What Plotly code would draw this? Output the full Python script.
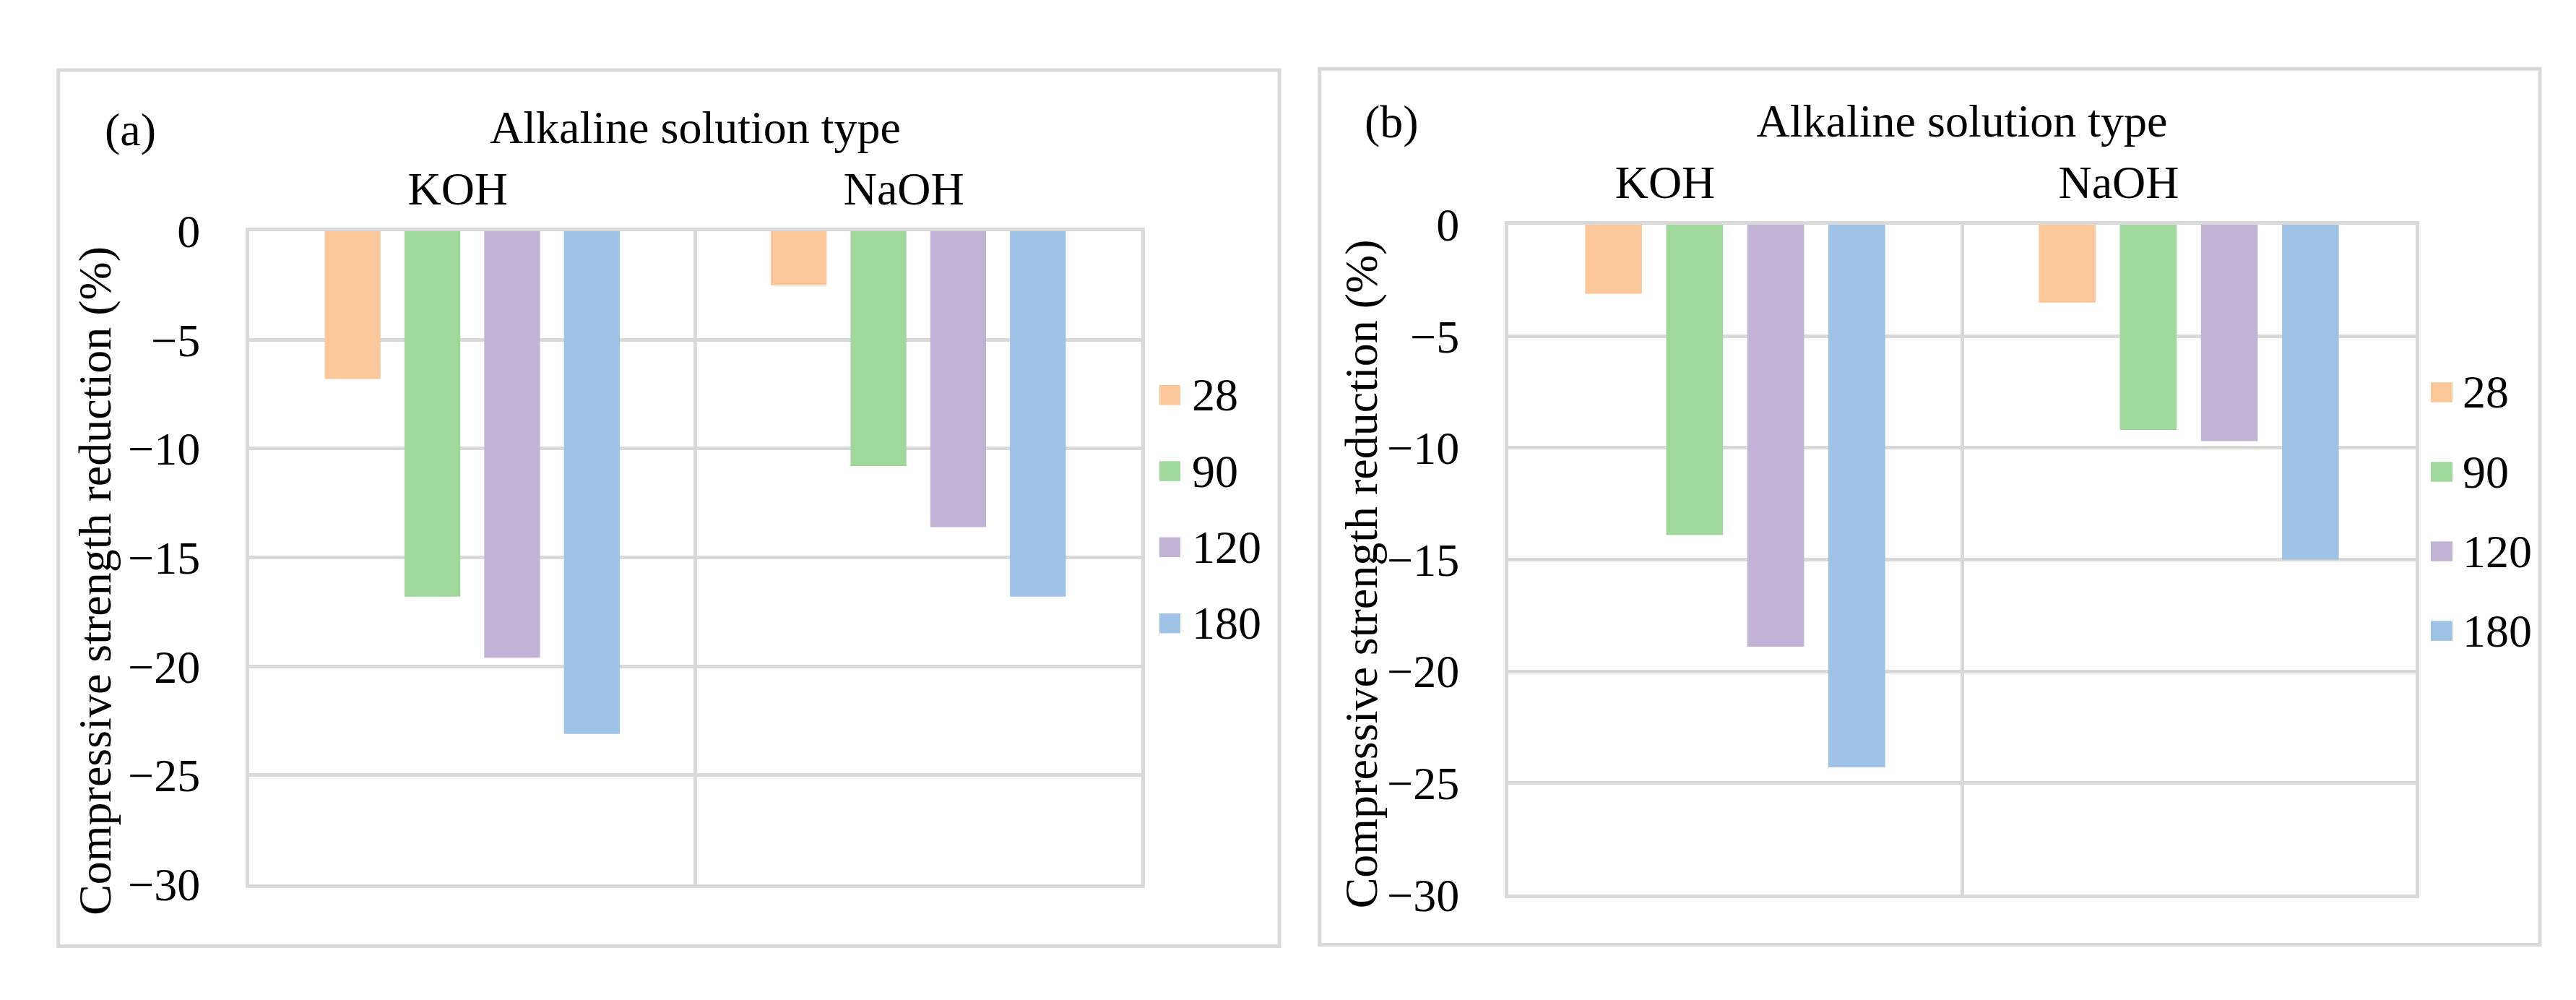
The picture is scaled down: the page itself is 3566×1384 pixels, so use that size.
import plotly.graph_objects as go

# ---------------- data ----------------
categories = ["KOH", "NaOH"]
series_names = ["28", "90", "120", "180"]
colors = ["#FCC899", "#9ED89A", "#C2B2D6", "#9EC3E6"]

# panel (a): compressive strength reduction (%) per curing age
a_28 = [-6.8, -2.5]
a_90 = [-16.8, -10.8]
a_120 = [-19.6, -13.6]
a_180 = [-23.1, -16.8]

# panel (b)
b_28 = [-3.1, -3.5]
b_90 = [-13.9, -9.2]
b_120 = [-18.9, -9.7]
b_180 = [-24.3, -15.0]

y_tickvals = [0, -5, -10, -15, -20, -25, -30]
y_ticktext = ["0", "\u22125", "\u221210", "\u221215", "\u221220", "\u221225", "\u221230"]

x_title = "Alkaline solution type"
y_title = "Compressive strength reduction (%)"
panel_labels = ["(a)", "(b)"]

panel_a = [a_28, a_90, a_120, a_180]
panel_b = [b_28, b_90, b_120, b_180]

# ---------------- figure ----------------
W, H = 3566, 1384
FONT = "Liberation Serif, Times New Roman, serif"
FS = 64
GRID = "#d9d9d9"
TXT = dict(family=FONT, size=FS, color="black")

fig = go.Figure()

for i, name in enumerate(series_names):
    fig.add_trace(go.Bar(
        x=categories, y=panel_a[i], name=name,
        marker=dict(color=colors[i], line=dict(width=0)),
        xaxis="x", yaxis="y", showlegend=False,
    ))
for i, name in enumerate(series_names):
    fig.add_trace(go.Bar(
        x=categories, y=panel_b[i], name=name,
        marker=dict(color=colors[i], line=dict(width=0)),
        xaxis="x2", yaxis="y2", showlegend=False,
    ))


def px_x(v):
    return v / W


def px_y(v):
    return 1 - v / H


def xaxis_cfg(domain, anchor, shift):
    return dict(
        domain=domain, anchor=anchor, type="category", side="top",
        tickson="boundaries", showgrid=True, gridcolor=GRID, gridwidth=5,
        showline=True, mirror=True, linecolor=GRID, linewidth=5,
        ticks="", ticklabelshift=shift, ticklabelstandoff=6,
        tickfont=TXT,
        title=dict(text=x_title, font=TXT, standoff=8),
        automargin=True, fixedrange=True,
    )


def yaxis_cfg(domain, anchor):
    return dict(
        domain=domain, anchor=anchor, range=[-30, 0],
        tickmode="array", tickvals=y_tickvals, ticktext=y_ticktext,
        showgrid=True, gridcolor=GRID, gridwidth=5, zeroline=False,
        showline=True, mirror=True, linecolor=GRID, linewidth=5,
        ticks="", ticklabelstandoff=50,
        tickfont=TXT,
        fixedrange=True,
    )


fig.update_layout(
    width=W, height=H,
    margin=dict(l=0, r=0, t=0, b=0),
    paper_bgcolor="white", plot_bgcolor="white",
    barmode="group", bargap=0.285, bargroupgap=0.3,
    font=TXT, showlegend=False,
    xaxis=xaxis_cfg([px_x(337), px_x(1572)], "y", -20),
    yaxis=yaxis_cfg([px_y(1244.5), px_y(291.5)], "x"),
    xaxis2=xaxis_cfg([px_x(2080), px_x(3336)], "y2", -97),
    yaxis2=yaxis_cfg([px_y(1260), px_y(282)], "x2"),
)

# outer panel frames
for (x0, y0, x1, y1) in [(72.7, 57, 1763, 1335), (1818.6, 55, 3508, 1333)]:
    fig.add_shape(type="rect", xref="paper", yref="paper",
                  x0=px_x(x0), x1=px_x(x1), y0=px_y(y1), y1=px_y(y0),
                  line=dict(color=GRID, width=5), fillcolor="rgba(0,0,0,0)", layer="below")

# panel labels
for lab, (cx, cy) in zip(panel_labels, [(172, 143.5), (1918, 132)]):
    fig.add_annotation(text=lab, xref="paper", yref="paper",
                       x=px_x(cx), y=px_y(cy), xanchor="center", yanchor="middle",
                       showarrow=False, font=TXT)

# y-axis titles (rotated text, placed as in the reference)
for (cx, cy) in [(124, 802), (1876, 792)]:
    fig.add_annotation(text=y_title, xref="paper", yref="paper", textangle=-90,
                       x=px_x(cx), y=px_y(cy), xanchor="center", yanchor="middle",
                       showarrow=False, font=TXT)

# legends (one per panel): square key + series name
legend_specs = [
    dict(key_x0=1597, key_w=29, text_x=1640, y0=531, dy=111),
    dict(key_x0=3357, key_w=30, text_x=3399, y0=527, dy=116),
]
KEY_H = 29
for spec in legend_specs:
    for i, name in enumerate(series_names):
        cy = spec["y0"] + i * spec["dy"]
        fig.add_shape(type="rect", xref="paper", yref="paper",
                      x0=px_x(spec["key_x0"]), x1=px_x(spec["key_x0"] + spec["key_w"]),
                      y0=px_y(cy + KEY_H / 2), y1=px_y(cy - KEY_H / 2),
                      line=dict(width=0), fillcolor=colors[i])
        fig.add_annotation(text=name, xref="paper", yref="paper",
                           x=px_x(spec["text_x"]), y=px_y(cy), xanchor="left", yanchor="middle",
                           showarrow=False, font=TXT)

fig.write_html("out.html")
